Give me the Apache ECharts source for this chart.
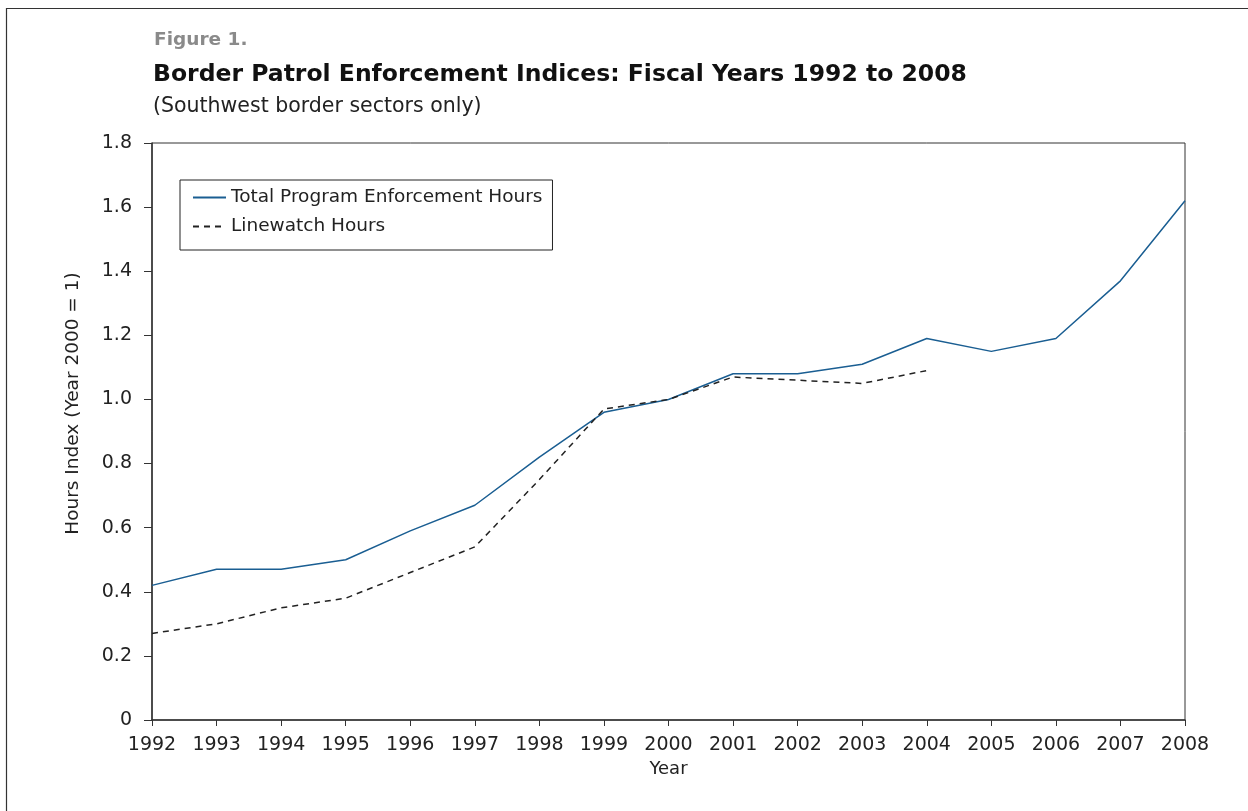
<!DOCTYPE html>
<html>
<head>
<meta charset="utf-8">
<script src="https://cdn.jsdelivr.net/npm/echarts@6/dist/echarts.min.js"></script>
<style>
html,body{margin:0;padding:0;background:#fff;}
#chart{width:1248px;height:811px;}
</style>
</head>
<body>
<div id="chart"></div>
<script>
const years = ['1992','1993','1994','1995','1996','1997','1998','1999','2000','2001','2002','2003','2004','2005','2006','2007','2008'];
const totalHours = [0.42,0.47,0.47,0.50,0.59,0.67,0.82,0.96,1.00,1.08,1.08,1.11,1.19,1.15,1.19,1.37,1.62];
const linewatchHours = [0.27,0.30,0.35,0.38,0.46,0.54,0.75,0.97,1.00,1.07,1.06,1.05,1.09,null,null,null,null];
const yTicks = [0,0.2,0.4,0.6,0.8,1.0,1.2,1.4,1.6,1.8];

const FONT = '"DejaVu Sans", "Liberation Sans", Arial, sans-serif';
const chart = echarts.init(document.getElementById('chart'));
chart.setOption({
  backgroundColor: '#fff',
  animation: false,
  textStyle: { fontFamily: FONT },
  title: [
    { text: 'Figure 1.', left: 149, top: 26, textStyle: { fontSize: 18.5, fontWeight: 'bold', color: '#8a8a8a', fontFamily: FONT } },
    { text: 'Border Patrol Enforcement Indices: Fiscal Years 1992 to 2008', left: 148, top: 58, textStyle: { fontSize: 23.5, fontWeight: 'bold', color: '#111', fontFamily: FONT } },
    { text: '(Southwest border sectors only)', left: 148, top: 91, textStyle: { fontSize: 20.5, fontWeight: 'normal', color: '#222', fontFamily: FONT } }
  ],
  graphic: [
    { type: 'rect', silent: true, shape: { x: 6.5, y: 8.5, width: 1400, height: 1000 }, style: { fill: 'none', stroke: '#333', lineWidth: 1.2 } }
  ],
  legend: {
    orient: 'vertical',
    left: 180, top: 180,
    backgroundColor: '#fff',
    borderColor: '#222', borderWidth: 1,
    padding: [8, 10, 14, 12],
    itemWidth: 33, itemHeight: 12, itemGap: 10,
    itemStyle: { opacity: 0 },
    textStyle: { fontSize: 18.5, color: '#222', fontFamily: FONT },
    data: ['Total Program Enforcement Hours', 'Linewatch Hours']
  },
  grid: { left: 152, right: 63, top: 143, bottom: 91, show: true, borderColor: '#333', borderWidth: 1 },
  xAxis: {
    type: 'category', data: years, boundaryGap: false,
    name: 'Year', nameLocation: 'middle', nameGap: 39,
    nameTextStyle: { fontSize: 18, color: '#222', fontFamily: FONT },
    axisLine: { lineStyle: { color: '#333', width: 1.5 } },
    axisTick: { show: true, length: 6, alignWithLabel: true, lineStyle: { color: '#333' } },
    axisLabel: { fontSize: 19, color: '#222', margin: 16, fontFamily: FONT },
    splitLine: { show: false }
  },
  yAxis: {
    type: 'value', min: 0, max: 1.8, interval: 0.2,
    name: 'Hours Index (Year 2000 = 1)', nameLocation: 'middle', nameGap: 69,
    nameTextStyle: { fontSize: 18.5, color: '#222', fontFamily: FONT, padding: [0, 0, 0, 56] },
    axisLine: { show: true, lineStyle: { color: '#333', width: 1.5 } },
    axisTick: { show: true, length: 8, lineStyle: { color: '#333' } },
    axisLabel: { fontSize: 19, color: '#222', margin: 20, fontFamily: FONT,
      formatter: v => { const t = yTicks.find(x => Math.abs(x - v) < 1e-6); return t === 0 ? '0' : (t !== undefined ? t.toFixed(1) : ''); } },
    splitLine: { show: false }
  },
  series: [
    { name: 'Total Program Enforcement Hours', type: 'line', data: totalHours, symbol: 'none',
      lineStyle: { color: '#1a5e92', width: 1.5 }, itemStyle: { color: '#1a5e92' } },
    { name: 'Linewatch Hours', type: 'line', data: linewatchHours, symbol: 'none',
      lineStyle: { color: '#222', width: 1.5, type: [6, 5] }, itemStyle: { color: '#222' } }
  ]
});
</script>
</body>
</html>
